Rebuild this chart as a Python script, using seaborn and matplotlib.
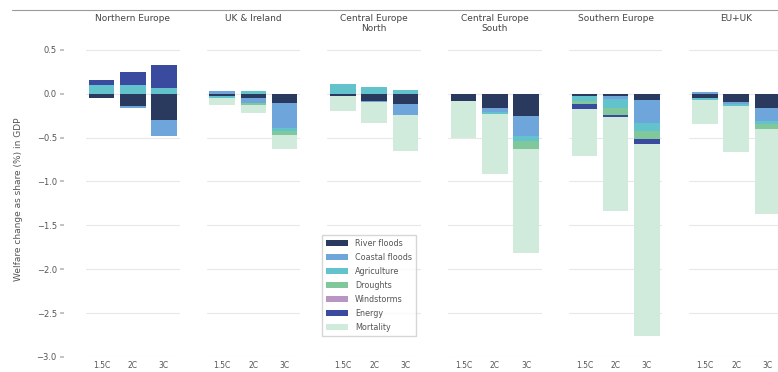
import numpy as np
import pandas as pd
import matplotlib
matplotlib.use("Agg")
import matplotlib.pyplot as plt
import seaborn as sns
from matplotlib.patches import Patch
from matplotlib.lines import Line2D

# --- DATA (welfare change, % of GDP) ---
regions = ["Northern Europe", "UK & Ireland", "Central Europe\nNorth",
           "Central Europe\nSouth", "Southern Europe", "EU+UK"]
scenarios = ["1.5C", "2C", "3C"]
impacts = ["River floods", "Coastal floods", "Agriculture", "Droughts",
           "Windstorms", "Energy", "Mortality"]

# one list per impact: [region][scenario]
river_floods = [[-0.05, -0.14, -0.30], [-0.03, -0.05, -0.11], [-0.03, -0.08, -0.12],
                [-0.08, -0.16, -0.26], [-0.03, -0.03, -0.07], [-0.05, -0.09, -0.16]]
coastal_floods = [[0.00, -0.02, -0.18], [0.03, -0.06, -0.28], [0.00, -0.02, -0.12],
                  [0.00, -0.05, -0.22], [0.00, -0.03, -0.26], [0.02, -0.03, -0.15]]
agriculture = [[0.10, 0.10, 0.07], [-0.02, 0.03, -0.03], [0.11, 0.08, 0.04],
               [0.00, -0.02, -0.06], [-0.05, -0.10, -0.09], [-0.02, -0.02, -0.04]]
droughts = [[0.00, 0.00, 0.00], [0.00, -0.02, -0.05], [0.00, 0.00, 0.00],
            [0.00, 0.00, -0.09], [-0.04, -0.08, -0.10], [0.00, 0.00, -0.05]]
windstorms = [[0.00, 0.00, 0.00], [0.00, 0.00, 0.00], [0.00, 0.00, 0.00],
              [0.00, 0.00, 0.00], [0.00, 0.00, 0.00], [0.00, 0.00, 0.00]]
energy = [[0.05, 0.15, 0.26], [0.00, 0.00, 0.00], [0.00, 0.00, 0.00],
          [0.00, 0.00, 0.00], [-0.05, -0.03, -0.05], [0.00, 0.00, 0.00]]
mortality = [[0.00, 0.00, 0.00], [-0.08, -0.09, -0.16], [-0.17, -0.23, -0.41],
             [-0.42, -0.69, -1.19], [-0.54, -1.07, -2.19], [-0.27, -0.53, -0.97]]

colors = ["#2a3a5f", "#6ea5da", "#62c3cc", "#80c89c", "#b895c2", "#3a4a9e", "#d0eadc"]


def main():
    sns.set_theme(style="whitegrid", rc={
        "grid.color": "#e8e8e8",
        "grid.linewidth": 0.8,
        "axes.edgecolor": "white",
        "ytick.left": True,
        "ytick.major.size": 3,
        "ytick.color": "#bbbbbb",
        "ytick.labelcolor": "#555555",
        "xtick.labelcolor": "#555555",
    })
    plt.rcParams["font.family"] = ["DejaVu Sans"]

    # long table: one row per region / scenario / impact
    layers = [river_floods, coastal_floods, agriculture, droughts,
              windstorms, energy, mortality]
    rows = []
    for k, imp in enumerate(impacts):
        for r, reg in enumerate(regions):
            for s, sc in enumerate(scenarios):
                rows.append((reg, sc, imp, k, layers[k][r][s]))
    df = pd.DataFrame(rows, columns=["region", "scenario", "impact", "order", "value"])
    df["pos"] = df["value"].clip(lower=0)
    df["neg"] = df["value"].clip(upper=0)
    df = df.sort_values(["region", "scenario", "order"])
    df["pos_cum"] = df.groupby(["region", "scenario"])["pos"].cumsum()
    df["neg_cum"] = df.groupby(["region", "scenario"])["neg"].cumsum()

    fig, axes = plt.subplots(1, 6, figsize=(7.78, 3.72), dpi=100, sharey=True)
    fig.subplots_adjust(left=86 / 778, right=783 / 778, bottom=15 / 372,
                        top=1 - 41 / 372, wspace=0.29)

    for ax, reg in zip(axes, regions):
        sub = df[df["region"] == reg]
        # draw outermost cumulative layer first, inner layers on top
        for k in reversed(range(len(impacts))):
            lay = sub[sub["order"] == k]
            for col in ["pos_cum", "neg_cum"]:
                sns.barplot(data=lay, x="scenario", y=col, order=scenarios,
                            color=colors[k], saturation=1, width=0.82,
                            errorbar=None, linewidth=0, ax=ax)
        ax.set_ylim(-3.0, 0.6)
        ax.set_yticks([0.5, 0.0, -0.5, -1.0, -1.5, -2.0, -2.5, -3.0])
        ax.set_xlabel("")
        ax.set_ylabel("")
        ax.grid(axis="x", visible=False)
        ax.tick_params(axis="x", labelsize=5.5, pad=3, length=0)
        ax.tick_params(axis="y", labelsize=6, pad=2)
        ax.text(0.5, 1.085, reg, transform=ax.transAxes, ha="center", va="top",
                fontsize=6.5, color="#444444", linespacing=1.15)
        sns.despine(ax=ax, left=True, bottom=True)

    # ticks pushed out from the plot area, seaborn-offset style
    axes[0].spines["left"].set_position(("outward", 16))
    for ax in axes[1:]:
        ax.tick_params(axis="y", left=False)

    axes[0].set_ylabel("Welfare change as share (%) in GDP", fontsize=6.5,
                       color="#555555", labelpad=10)

    fig.add_artist(Line2D([12 / 778, 1.0], [1 - 10 / 372] * 2,
                          color="#9a9a9a", linewidth=0.8))

    handles = [Patch(facecolor=c, edgecolor="none") for c in colors]
    fig.legend(handles, impacts, loc="upper left",
               bbox_to_anchor=(318 / 778, 1 - 231 / 372), fontsize=5.8,
               frameon=True, fancybox=False, edgecolor="#cccccc",
               labelspacing=0.62, handlelength=2.7, handleheight=0.8,
               handletextpad=0.9, borderpad=0.5, labelcolor="#555555")

    plt.savefig("out.png", dpi=100)


if __name__ == "__main__":
    main()
